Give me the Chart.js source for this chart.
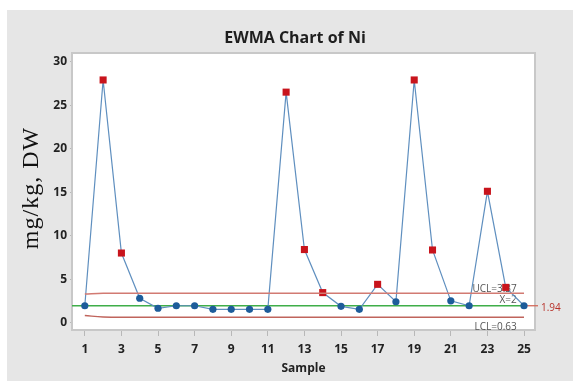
<!DOCTYPE html>
<html>
<head>
<meta charset="utf-8">
<script src="https://cdn.jsdelivr.net/npm/chart.js@4"></script>
<style>
  body { margin: 0; background: #fff; }
  #wrap { width: 573px; height: 381px; }
</style>
</head>
<body>
<div id="wrap"><canvas id="graficoEwma"></canvas></div>
<script>
// dados
const samples = [1, 2, 3, 4, 5, 6, 7, 8, 9, 10, 11, 12, 13, 14, 15, 16, 17, 18, 19, 20, 21, 22, 23, 24, 25]
const niValues = [1.94, 27.9, 8.0, 2.8, 1.65, 1.94, 1.94, 1.53, 1.53, 1.53, 1.53, 26.5, 8.4, 3.45, 1.87, 1.53, 4.4, 2.4, 27.9, 8.35, 2.5, 1.94, 15.1, 4.05, 1.94]
const uclValues = [3.3, 3.37, 3.37, 3.37, 3.37, 3.37, 3.37, 3.37, 3.37, 3.37, 3.37, 3.37, 3.37, 3.37, 3.37, 3.37, 3.37, 3.37, 3.37, 3.37, 3.37, 3.37, 3.37, 3.37, 3.37]
const lclValues = [0.82, 0.64, 0.63, 0.63, 0.63, 0.63, 0.63, 0.63, 0.63, 0.63, 0.63, 0.63, 0.63, 0.63, 0.63, 0.63, 0.63, 0.63, 0.63, 0.63, 0.63, 0.63, 0.63, 0.63, 0.63]
const centerValue = 1.94
const xTicks = [1, 3, 5, 7, 9, 11, 13, 15, 17, 19, 21, 23, 25]
const yTicks = [0, 5, 10, 15, 20, 25, 30]
const titulo = 'EWMA Chart of Ni'
const tituloY = 'mg/kg, DW'

function foraDeControle(i) {
    return niValues[i] > uclValues[i] || niValues[i] < lclValues[i]
}

const painelPlugin = {
    id: 'painel',
    beforeDraw(chart) {
        const ctx = chart.ctx
        const a = chart.chartArea
        ctx.save()
        ctx.fillStyle = '#ffffff'
        ctx.fillRect(0, 0, chart.width, chart.height)
        ctx.fillStyle = '#e6e6e6'
        ctx.fillRect(7, 10, chart.width - 7, chart.height - 10)
        ctx.fillStyle = '#ffffff'
        ctx.fillRect(a.left, a.top, a.right - a.left, a.bottom - a.top)

        // titulo
        ctx.fillStyle = '#1e1e1e'
        ctx.font = 'bold 16px "Open Sans"'
        ctx.textAlign = 'center'
        ctx.textBaseline = 'middle'
        ctx.fillText(titulo, 295, 38)

        // titulo do eixo y
        ctx.translate(32, 188)
        ctx.rotate(-Math.PI / 2)
        ctx.fillStyle = '#111111'
        ctx.font = '24px "Liberation Serif"'
        ctx.letterSpacing = '1px'
        ctx.fillText(tituloY, 0, 0)
        ctx.restore()
    },
    beforeDatasetsDraw(chart) {
        const ctx = chart.ctx
        const a = chart.chartArea
        const x = chart.scales.x
        const y = chart.scales.y
        const yc = y.getPixelForValue(centerValue)
        ctx.save()
        // borda da area
        ctx.strokeStyle = '#c8c8c8'
        ctx.lineWidth = 2
        ctx.strokeRect(a.left, a.top, a.right - a.left, a.bottom - a.top)

        // linha central
        ctx.strokeStyle = '#3fae49'
        ctx.lineWidth = 1.3
        ctx.beginPath()
        ctx.moveTo(a.left, yc)
        ctx.lineTo(a.right - 10, yc)
        ctx.stroke()
        ctx.strokeStyle = '#d46a5a'
        ctx.beginPath()
        ctx.moveTo(a.right - 10, yc)
        ctx.lineTo(a.right + 3, yc)
        ctx.stroke()
        ctx.fillStyle = '#b8322a'
        ctx.font = '10px "Open Sans"'
        ctx.textAlign = 'left'
        ctx.textBaseline = 'middle'
        ctx.fillText(centerValue.toFixed(2), a.right + 6, yc + 2)

        // rotulos dos limites
        const xr = x.getPixelForValue(24.6)
        ctx.fillStyle = '#555555'
        ctx.textAlign = 'right'
        ctx.textBaseline = 'bottom'
        ctx.fillText('UCL=' + uclValues[uclValues.length - 1].toFixed(2), xr, y.getPixelForValue(uclValues[uclValues.length - 1]) + 1)
        ctx.fillText('X\u0304=2', xr, yc - 1)
        ctx.textBaseline = 'top'
        ctx.fillText('LCL=' + lclValues[lclValues.length - 1].toFixed(2), xr, y.getPixelForValue(lclValues[lclValues.length - 1]) + 5)
        ctx.restore()
    }
}

let graficoEwma = new Chart(
    document.getElementById('graficoEwma'), {
    type: 'line',
    data: {
        datasets: [{
            label: 'UCL',
            data: samples.map((s, i) => ({ x: s, y: uclValues[i] })),
            borderColor: '#d27a72',
            borderWidth: 1.5,
            pointRadius: 0,
            tension: 0.4
        }, {
            label: 'LCL',
            data: samples.map((s, i) => ({ x: s, y: lclValues[i] })),
            borderColor: '#c0645c',
            borderWidth: 1.5,
            pointRadius: 0,
            tension: 0.4
        }, {
            label: 'Ni',
            data: samples.map((s, i) => ({ x: s, y: niValues[i] })),
            borderColor: '#5f8fbf',
            borderWidth: 1.2,
            pointStyle: ctx => foraDeControle(ctx.dataIndex) ? 'rect' : 'circle',
            pointRadius: ctx => foraDeControle(ctx.dataIndex) ? 5 : 3.6,
            pointBackgroundColor: ctx => foraDeControle(ctx.dataIndex) ? '#c8141c' : '#1d5c9a',
            pointBorderColor: ctx => foraDeControle(ctx.dataIndex) ? '#c8141c' : '#1d5c9a',
            pointBorderWidth: 0
        }]
    },
    options: {
        responsive: true,
        maintainAspectRatio: false,
        animation: false,
        layout: { padding: { left: 0, right: 38, top: 53, bottom: 0 } },
        plugins: {
            legend: { display: false },
            tooltip: { enabled: false },
            title: { display: false }
        },
        scales: {
            x: {
                type: 'linear',
                min: 0.3,
                max: 25.6,
                afterBuildTicks: scale => { scale.ticks = xTicks.map(v => ({ value: v })) },
                afterFit: scale => { scale.height = 51 },
                grid: { display: true, drawOnChartArea: false, drawTicks: true, tickLength: 6, color: '#b8b8b8' },
                border: { display: false },
                ticks: {
                    color: '#222222',
                    padding: 6,
                    maxRotation: 0,
                    font: { family: 'Open Sans', size: 12, weight: 'bold' }
                },
                title: {
                    display: true,
                    text: 'Sample',
                    color: '#222222',
                    font: { family: 'Open Sans', size: 12, weight: 'bold' },
                    padding: { top: 0, bottom: 5 }
                }
            },
            y: {
                min: -0.85,
                max: 31,
                afterBuildTicks: scale => { scale.ticks = yTicks.map(v => ({ value: v })) },
                afterFit: scale => { scale.width = 72 },
                grid: { display: true, drawOnChartArea: false, drawTicks: true, tickLength: 2, color: '#b8b8b8' },
                border: { display: false },
                ticks: {
                    color: '#222222',
                    padding: 3,
                    font: { family: 'Open Sans', size: 12, weight: 'bold' }
                }
            }
        }
    },
    plugins: [painelPlugin]
}
)
</script>
</body>
</html>
